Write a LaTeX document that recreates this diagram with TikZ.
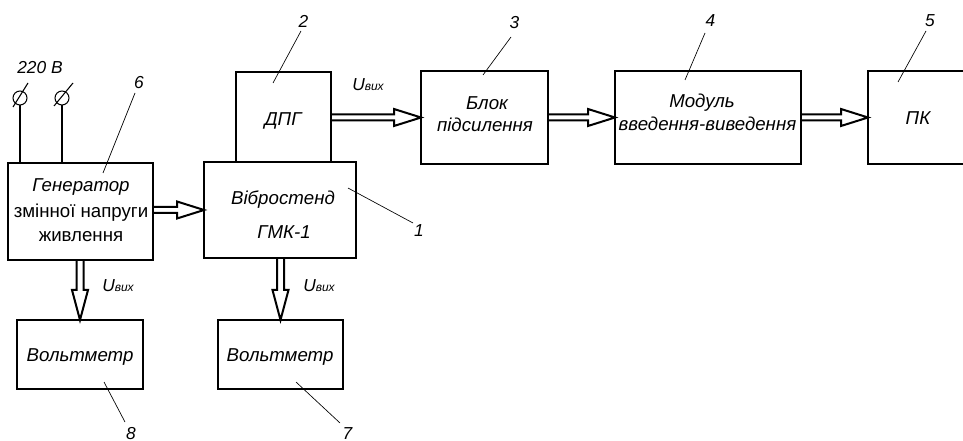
\documentclass[tikz,border=0pt]{standalone}
\usepackage{fontspec}
\setmainfont{Liberation Sans}
\usetikzlibrary{calc}
\newcommand\harr[2]{%
  \draw[fat] ($(#1.east |- #2.west)+(0,-3)$) -- ($(#2.west)+(-27,-3)$) -- ($(#2.west)+(-27,-8.5)$)
    -- (#2.west) -- ($(#2.west)+(-27,8.5)$) -- ($(#2.west)+(-27,3)$) -- ($(#1.east |- #2.west)+(0,3)$);}
\newcommand\varr[2]{%
  \draw[fat] ($(#1.south -| #2.north)+(-3.5,0)$) -- ($(#2.north)+(-3.5,-30)$) -- ($(#2.north)+(-8,-30)$)
    -- (#2.north) -- ($(#2.north)+(8,-30)$) -- ($(#2.north)+(3.5,-30)$) -- ($(#1.south -| #2.north)+(3.5,0)$);}
\begin{document}
\begin{tikzpicture}[x=0.75pt,y=-0.75pt,
  box/.style={draw, line width=2.2pt, inner sep=0pt, outer sep=0pt},
  txt/.style={anchor=base, inner sep=0pt, font=\itshape\fontsize{14}{17}\selectfont},
  utxt/.style={anchor=base, inner sep=0pt, font=\fontsize{14}{17}\selectfont},
  num/.style={anchor=base, inner sep=0pt, font=\itshape\fontsize{13}{16}\selectfont},
  ulab/.style={anchor=base, inner sep=0pt, font=\itshape\fontsize{13}{16}\selectfont},
  fat/.style={line width=1.5pt, line join=miter},
  lead/.style={line width=0.5pt},
  wire/.style={line width=0.8pt},
  term/.style={draw, circle, line width=0.8pt, minimum size=14*0.75pt, inner sep=0pt, outer sep=0pt}]
\clip (0,0) rectangle (963,441);
\fill[white] (0,0) rectangle (963,441);
% boxes
\node[box, minimum width=145*0.75pt, minimum height=97*0.75pt] (gen) at (80.5,211.5) {};
\node[box, minimum width=152*0.75pt, minimum height=96*0.75pt] (vib) at (280,210) {};
\node[box, minimum width=95*0.75pt, minimum height=90*0.75pt] (dpg) at (283.5,117) {};
\node[box, minimum width=127*0.75pt, minimum height=93*0.75pt] (amp) at (484.5,117.5) {};
\node[box, minimum width=186*0.75pt, minimum height=93*0.75pt] (mod) at (708,117.5) {};
\node[box, minimum width=107*0.75pt, minimum height=93*0.75pt] (pc) at (921.5,117.5) {};
\node[box, minimum width=126*0.75pt, minimum height=69*0.75pt] (v8) at (80,354.5) {};
\node[box, minimum width=125*0.75pt, minimum height=69*0.75pt] (v7) at (280.5,354.5) {};
% texts
\node[txt] (tg1) at (81,192) {Генератор};
\node[utxt] (tg2) at (81,218) {змінної напруги};
\node[utxt] (tg3) at (81,242) {живлення};
\node[txt] (tv1) at (283,205) {Вібростенд};
\node[txt] (tv2) at (284,238.5) {ГМК-1};
\node[txt] (td) at (283,126) {ДПГ};
\node[txt] (ta1) at (487,110) {Блок};
\node[txt] (ta2) at (485,132) {підсилення};
\node[txt] (tm1) at (702,108) {Модуль};
\node[txt] (tm2) at (707.5,131) {введення-виведення};
\node[txt] (tp) at (918,124.5) {ПК};
\node[txt] (t8) at (80,362) {Вольтметр};
\node[txt] (t7) at (280,362) {Вольтметр};
% arrows
\harr{gen}{vib}
\harr{dpg}{amp}
\harr{amp}{mod}
\harr{mod}{pc}
\varr{gen}{v8}
\varr{vib}{v7}
% U labels
\node[ulab] (u1) at (368,91) {U{\fontsize{9}{10}\selectfont вих}};
\node[ulab] (u2) at (118,292) {U{\fontsize{9}{10}\selectfont вих}};
\node[ulab] (u3) at (319,292) {U{\fontsize{9}{10}\selectfont вих}};
% terminals
\node[term] (t1) at (20,98) {};
\node[term] (t2) at (62,98) {};
\draw[wire] (t1.south) -- (t1.south |- gen.north);
\draw[wire] (t2.south) -- (t2.south |- gen.north);
\draw[wire] ($(t1.center)+(-7,9)$) -- ($(t1.center)+(8,-15)$);
\draw[wire] ($(t2.center)+(-8,8)$) -- ($(t2.center)+(11,-15)$);
\node[num] (v220) at (40,74) {220 В};
% numbers and leaders
\node[num] (n2) at (303.5,28) {2};
\node[num] (n3) at (514.5,29) {3};
\node[num] (n4) at (710.5,27) {4};
\node[num] (n5) at (930,27) {5};
\node[num] (n6) at (139,89) {6};
\node[num] (n1) at (419,237) {1};
\node[num] (n8) at (131,439) {8};
\node[num] (n7) at (347.5,439) {7};
\draw[lead] (301,31) -- (273,83);
\draw[lead] (511,37) -- (483,75);
\draw[lead] (705,33) -- (685,80);
\draw[lead] (926,31) -- (898,82);
\draw[lead] (135,93) -- (103,173);
\draw[lead] (348,188) -- (413,223);
\draw[lead] (104,382) -- (125,422);
\draw[lead] (296,382) -- (340,423);
\end{tikzpicture}
\end{document}
